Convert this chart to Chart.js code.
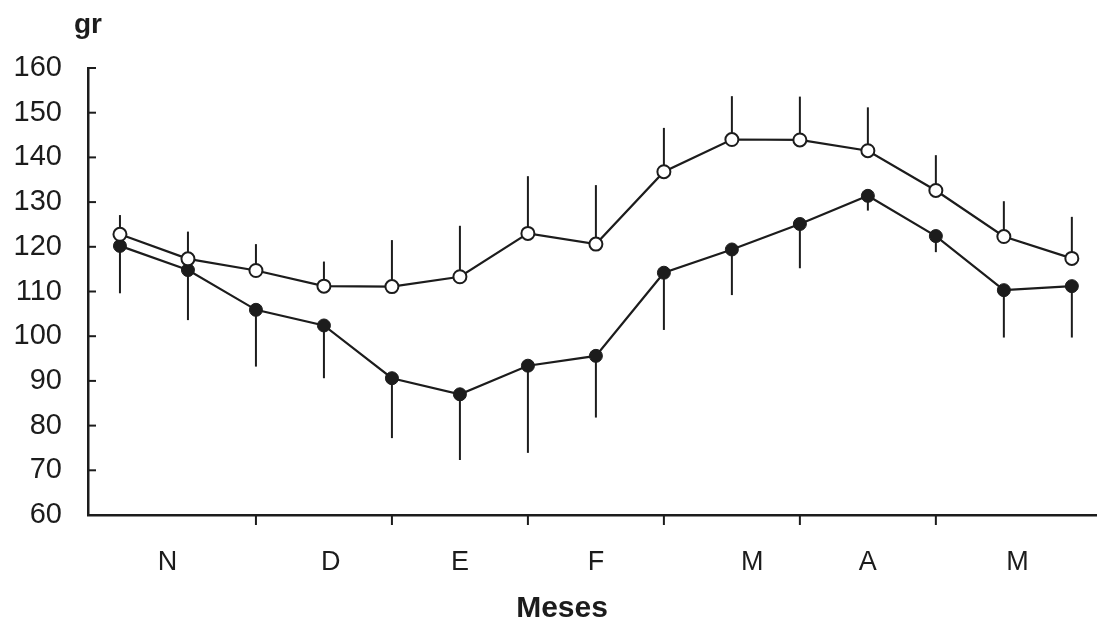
<!DOCTYPE html>
<html>
<head>
<meta charset="utf-8">
<script src="https://cdn.jsdelivr.net/npm/chart.js@4.4.1/dist/chart.umd.min.js"></script>
<style>
  html, body { margin: 0; padding: 0; background: #fff; }
  #wrap { width: 1097px; height: 622px; }
</style>
</head>
<body>
<div id="wrap"><canvas id="chart"></canvas></div>
<script>
// Sample index (fortnightly samplings, Nov -> May)
const samples = [0, 1, 2, 3, 4, 5, 6, 7, 8, 9, 10, 11, 12, 13, 14];

// Open circles: mean and upper error bar (SD)
const openMean = [122.8, 117.3, 114.7, 111.2, 111.1, 113.3, 123.0, 120.6, 136.8, 144.0, 143.9, 141.5, 132.6, 122.3, 117.4];
const openSD   = [4.3, 6.1, 5.9, 5.5, 10.4, 11.4, 12.8, 13.2, 9.8, 9.7, 9.7, 9.7, 7.9, 7.9, 9.3];

// Filled circles: mean and lower error bar (SD)
const filledMean = [120.2, 114.8, 105.9, 102.4, 90.6, 87.0, 93.4, 95.6, 114.2, 119.4, 125.1, 131.4, 122.4, 110.3, 111.2];
const filledSD   = [10.6, 11.2, 12.7, 11.8, 13.4, 14.7, 19.5, 13.8, 12.8, 10.2, 9.9, 3.3, 3.6, 10.6, 11.5];

// Month labels and where they sit along the sample axis
const monthLabels = ['N', 'D', 'E', 'F', 'M', 'A', 'M'];
const monthPos    = [0.7, 3.1, 5.0, 7.0, 9.3, 11.0, 13.2];
// Month boundaries (tick marks on the x axis)
const monthTicks  = [2, 4, 6, 8, 10, 12];

const yTicks = [60, 70, 80, 90, 100, 110, 120, 130, 140, 150, 160];

const ink = '#1c1c1c';
const fontFam = "'Liberation Sans', Arial, sans-serif";

const errorBars = {
    id: 'errorBars',
    beforeDatasetsDraw(chart) {
        const { ctx, scales: { x, y } } = chart;
        ctx.save();
        ctx.strokeStyle = ink;
        ctx.lineWidth = 2;
        const bar = (i, from, to) => {
            const px = x.getPixelForValue(samples[i]);
            ctx.beginPath();
            ctx.moveTo(px, y.getPixelForValue(from));
            ctx.lineTo(px, y.getPixelForValue(to));
            ctx.stroke();
        };
        openMean.forEach((v, i) => bar(i, v, v + openSD[i]));
        filledMean.forEach((v, i) => bar(i, v, v - filledSD[i]));
        ctx.restore();
    }
};

const axisMarks = {
    id: 'axisMarks',
    afterDraw(chart) {
        const { ctx, scales: { x, y } } = chart;
        ctx.save();
        ctx.strokeStyle = ink;
        ctx.lineWidth = 2;
        // inward ticks on y axis
        yTicks.forEach(v => {
            const py = y.getPixelForValue(v);
            ctx.beginPath();
            ctx.moveTo(x.left, py);
            ctx.lineTo(x.left + 8, py);
            ctx.stroke();
        });
        // downward ticks on x axis
        monthTicks.forEach(v => {
            const px = x.getPixelForValue(v);
            ctx.beginPath();
            ctx.moveTo(px, y.bottom);
            ctx.lineTo(px, y.bottom + 10);
            ctx.stroke();
        });
        // axis labels
        ctx.fillStyle = ink;
        ctx.font = "bold 28px " + fontFam;
        ctx.textAlign = 'left';
        ctx.textBaseline = 'middle';
        ctx.fillText('gr', 74, 25);
        ctx.font = "bold 30px " + fontFam;
        ctx.textAlign = 'center';
        ctx.fillText('Meses', 562, 609);
        ctx.restore();
    }
};

const ctx = document.getElementById('chart').getContext('2d');
new Chart(ctx, {
    type: 'line',
    data: {
        datasets: [
            {
                label: 'open',
                data: samples.map((s, i) => ({ x: s, y: openMean[i] })),
                borderColor: ink,
                borderWidth: 2.2,
                pointRadius: 6.5,
                pointBorderWidth: 2,
                pointBackgroundColor: '#fff',
                pointBorderColor: ink,
                tension: 0,
                clip: false
            },
            {
                label: 'filled',
                data: samples.map((s, i) => ({ x: s, y: filledMean[i] })),
                borderColor: ink,
                borderWidth: 2.2,
                pointRadius: 6.5,
                pointBorderWidth: 1,
                pointBackgroundColor: ink,
                pointBorderColor: ink,
                tension: 0,
                clip: false
            }
        ]
    },
    options: {
        responsive: true,
        maintainAspectRatio: false,
        animation: false,
        layout: { autoPadding: false, padding: { top: 68, right: 0, left: 0, bottom: 0 } },
        plugins: {
            legend: { display: false },
            tooltip: { enabled: false }
        },
        scales: {
            x: {
                type: 'linear',
                min: -0.47,
                max: 14.37,
                grid: { display: false, drawTicks: false },
                border: { display: true, color: ink, width: 2.5 },
                afterBuildTicks: scale => {
                    scale.ticks = monthPos.map(v => ({ value: v }));
                },
                afterFit: scale => {
                    scale.height = 107;
                    scale.paddingLeft = 0;
                    scale.paddingRight = 0;
                },
                ticks: {
                    autoSkip: false,
                    maxRotation: 0,
                    padding: 31,
                    color: ink,
                    font: { family: fontFam, size: 27 },
                    callback: (v, i) => monthLabels[i]
                }
            },
            y: {
                min: 60,
                max: 160,
                grid: { display: false, drawTicks: false },
                border: { display: true, color: ink, width: 2.5 },
                afterBuildTicks: scale => {
                    scale.ticks = yTicks.map(v => ({ value: v }));
                },
                afterFit: scale => { scale.width = 88; },
                ticks: {
                    padding: 26,
                    color: ink,
                    font: { family: fontFam, size: 29 }
                }
            }
        }
    },
    plugins: [errorBars, axisMarks]
});
</script>
</body>
</html>
